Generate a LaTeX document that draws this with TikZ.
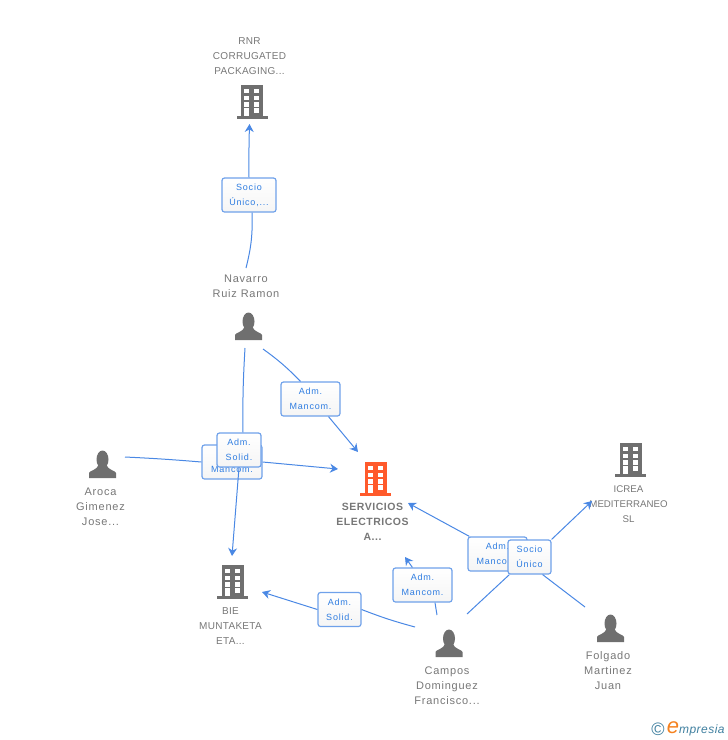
\documentclass[tikz,border=0pt]{standalone}
\usepackage{fontspec}
\setmainfont{Liberation Sans}
\newfontfamily\tagfont[LetterSpace=9]{Liberation Sans}
\newfontfamily\wordfont[LetterSpace=7]{Liberation Sans}
\newfontfamily\capsfont[LetterSpace=3]{Liberation Sans}
\newfontfamily\boldfont[LetterSpace=5]{Liberation Sans}
\newfontfamily\logofont[LetterSpace=4]{Liberation Sans}
\usetikzlibrary{positioning, calc, arrows.meta}

\definecolor{tagblue}{HTML}{2F7DE1}
\definecolor{linkblue}{HTML}{4A88E4}
\definecolor{tagedge}{HTML}{6FA1EA}
\definecolor{icongray}{HTML}{6F6F6F}
\definecolor{iconred}{HTML}{FF5A2B}
\definecolor{textgray}{HTML}{777777}
\definecolor{logoteal}{HTML}{3F7F9F}
\definecolor{logoorange}{HTML}{F58220}

\tikzset{
	pics/building/.style={code={
		\fill[#1] (-11,-17) rectangle (11,14);
		\fill[#1] (-15.5,14) rectangle (15.5,17);
		\foreach \wy/\wz in {-13/-8.7, -6.3/-2, 0.3/4.7}{
			\fill[white] (-7.7,\wy) rectangle (-2.7,\wz);
			\fill[white] (2,\wy) rectangle (7.3,\wz);
		}
		\fill[white] (-7.7,6.3) rectangle (-2.7,14);
		\fill[white] (2,6.3) rectangle (7.3,11.3);
	}},
	pics/person/.style={code={
		\fill[icongray] (0,-5) ellipse [x radius=6pt, y radius=9pt];
		\fill[icongray] (-13.5,13.5) -- (-13.5,8.5) .. controls (-13,6) and (-6,6) .. (-3.5,0) -- (3.5,0) .. controls (6,6) and (13,6) .. (13.5,8.5) -- (13.5,13.5) -- cycle;
	}}
}

\begin{document}
\begin{tikzpicture}[x=1pt, y=-1pt, >={Stealth[length=8pt, width=9pt]}, thick,
	nametext/.style={align=center, text=textgray, font=\wordfont\fontsize{11}{15}\selectfont, inner sep=1pt},
	capstext/.style={nametext, font=\capsfont\fontsize{10}{15}\selectfont},
	tag/.style={draw=tagedge, line width=1.2pt, rounded corners=2.5pt, top color=white, bottom color=white!96!black, text=tagblue, align=center, font=\tagfont\fontsize{9}{15}\selectfont, inner sep=0pt, minimum height=34pt},
	link/.style={color=linkblue, line width=1pt}
	]
	\useasboundingbox (0,0) rectangle (728,740);

	%Icons:
	\pic at (252,102) {building=icongray};
	\pic at (375.5,479) {building=iconred};
	\pic at (630.5,460) {building=icongray};
	\pic at (232.5,582) {building=icongray};
	\pic at (248.5,326.5) {person};
	\pic at (102.5,464.5) {person};
	\pic at (449,643.5) {person};
	\pic at (610.5,628.5) {person};

	%Names:
	\node[capstext]						(rnr)		at (249.5,56)	{RNR\\CORRUGATED\\PACKAGING...};
	\node[nametext]						(navarro)	at (246,286.5)	{Navarro\\Ruiz Ramon};
	\node[nametext]						(aroca)		at (100.5,507)	{Aroca\\Gimenez\\Jose...};
	\node[capstext, font=\boldfont\bfseries\fontsize{10.5}{15}\selectfont]	(servicios)	at (372.5,522)	{SERVICIOS\\ELECTRICOS\\A...};
	\node[capstext, font=\fontsize{9.7}{15}\selectfont]	(icrea)		at (628.5,504)	{ICREA\\MEDITERRANEO\\SL};
	\node[capstext]						(bie)		at (230.5,626)	{BIE\\MUNTAKETA\\ETA...};
	\node[nametext]						(campos)	at (447,686)	{Campos\\Dominguez\\Francisco...};
	\node[nametext]						(folgado)	at (608,671)	{Folgado\\Martinez\\Juan};
	\node[inner sep=0pt, text=logoteal, font=\fontsize{18}{18}\selectfont]	(copyr)	at (658,729)	{©};
	\node[inner sep=0pt, anchor=east, text=logoteal, font=\logofont\itshape\fontsize{12}{12}\selectfont]	(logo)	at (725,729)	{\textcolor{logoorange}{\fontsize{22}{22}\selectfont e}mpresia};

	%Free ends of the connectors:
	\coordinate (navarroUp)		at (246,268);
	\coordinate (navarroRight)	at (263,349);
	\coordinate (navarroDown)	at (245,348);
	\coordinate (arocaOut)		at (125,457);
	\coordinate (camposUp)		at (437,615);
	\coordinate (camposLeft)	at (415,627);
	\coordinate (camposRight)	at (467,614);
	\coordinate (folgadoOut)	at (585,607);
	\coordinate (rnrIn)			at (249.5,124);
	\coordinate (serviciosTop)	at (358,452);
	\coordinate (serviciosLeft)	at (338,469);
	\coordinate (serviciosBelow)	at (405,557);
	\coordinate (serviciosRight)	at (408,503);
	\coordinate (bieTop)		at (232,556);
	\coordinate (bieRight)		at (262,592);
	\coordinate (icreaIn)		at (592,501);

	%Labels:
	\node[tag, minimum width=54pt]	(socioRnr)		at (249,195)	{Socio\\Único,...};
	\node[tag, minimum width=59pt]	(mancomNavarro)	at (310.5,399)	{Adm.\\Mancom.};
	\node[tag, minimum width=60pt]	(mancomAroca)	at (232,462)	{Adm.\\Mancom.};
	\node[tag, minimum width=44pt]	(solidNavarro)	at (239,450)	{Adm.\\Solid.};
	\node[tag, minimum width=59pt]	(mancomCampos)	at (422.5,585)	{Adm.\\Mancom.};
	\node[tag, minimum width=43pt]	(solidCampos)	at (339.5,609.5)	{Adm.\\Solid.};
	\node[tag, minimum width=59pt]	(mancomFolgado)	at (497.5,554)	{Adm.\\Mancom.};
	\node[tag, minimum width=43pt]	(socioIcrea)	at (529.5,557)	{Socio\\Único};

	%Connectors:
	\path[link]
		(navarroUp)		edge [bend right=8]		($(socioRnr.south)+(3,0)$)
		(navarroRight)	edge [bend left=5]		($(mancomNavarro.north)+(-10,0)$)
		(navarroDown)	edge [bend right=2]		($(solidNavarro.north)+(4,0)$)
		(arocaOut)		edge [bend left=1]		(mancomAroca.west)
		(camposUp)		edge					($(mancomCampos.south)+(12.5,0)$)
		(camposLeft)	edge [bend left=3]		(solidCampos.east)
		(camposRight)	edge					($(socioIcrea.south west)+(2,0)$)
		(folgadoOut)	edge					($(socioIcrea.south east)+(-9,0)$);
	\path[link, ->]
		(socioRnr.north)	edge [bend left=1]	(rnrIn)
		($(mancomNavarro.south)+(18,0)$)	edge	(serviciosTop)
		(mancomAroca.east)	edge				(serviciosLeft)
		(solidNavarro.south)	edge			(bieTop)
		($(mancomCampos.north west)+(20,0)$)	edge	(serviciosBelow)
		(solidCampos.west)	edge				(bieRight)
		($(mancomFolgado.north west)+(2,0)$)	edge	(serviciosRight)
		(socioIcrea.north east)	edge			(icreaIn);
\end{tikzpicture}
\end{document}
